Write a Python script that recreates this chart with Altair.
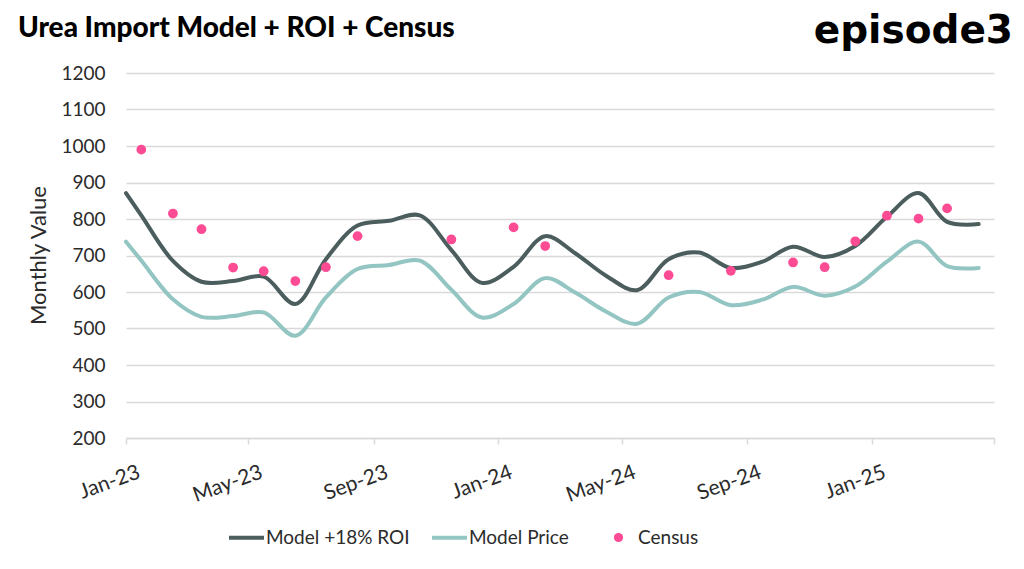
import altair as alt
import pandas as pd

# ---- data ----
line_dates = ["2023-01-01", "2023-01-16", "2023-02-16", "2023-03-16", "2023-04-16", "2023-05-16",
              "2023-06-16", "2023-07-16", "2023-08-16", "2023-09-16", "2023-10-16", "2023-11-16",
              "2023-12-16", "2024-01-16", "2024-02-16", "2024-03-16", "2024-04-16", "2024-05-16",
              "2024-06-16", "2024-07-16", "2024-08-16", "2024-09-16", "2024-10-16", "2024-11-16",
              "2024-12-16", "2025-01-16", "2025-02-16", "2025-03-16", "2025-04-16"]
model_roi = [871, 810, 685, 628, 630, 642, 567, 690, 782, 795, 810, 715, 625, 669, 753, 707,
             644, 605, 690, 708, 666, 683, 724, 696, 726, 806, 871, 792, 786]
model_price = [738, 686, 580, 532, 534, 544, 480, 585, 663, 674, 686, 606, 530, 567, 638, 599,
               546, 513, 585, 600, 564, 579, 614, 590, 615, 683, 738, 671, 666]

census_dates = ["2023-01-16", "2023-02-16", "2023-03-16", "2023-04-16", "2023-05-16", "2023-06-16",
                "2023-07-16", "2023-08-16", "2023-11-16", "2024-01-16", "2024-02-16", "2024-06-16",
                "2024-08-16", "2024-10-16", "2024-11-16", "2024-12-16", "2025-01-16", "2025-02-16",
                "2025-03-16"]
census = [990, 815, 772, 667, 657, 630, 668, 753, 744, 777, 726, 646, 658, 681, 668, 739, 809, 801, 829]

series_names = ["Model +18% ROI", "Model Price"]
series_colors = ["#4b5e5d", "#93c5c2"]
census_name = "Census"
census_color = "#fd4b94"

y_ticks = [200, 300, 400, 500, 600, 700, 800, 900, 1000, 1100, 1200]
x_ticks = ["2023-01-01", "2023-05-01", "2023-09-01", "2024-01-01", "2024-05-01",
           "2024-09-01", "2025-01-01", "2025-05-01"]

title_text = "Urea Import Model + ROI + Census"
logo_text = "episode3"

FONT = "Lato"
TXT = "#2b2b2b"
GRID = "#d9d9d9"

lines_df = pd.DataFrame({
    "date": line_dates * 2,
    "value": model_roi + model_price,
    "series": [series_names[0]] * len(line_dates) + [series_names[1]] * len(line_dates),
})
census_df = pd.DataFrame({"date": census_dates, "value": census, "series": [census_name] * len(census)})

x_scale = alt.Scale(type="utc", domain=["2023-01-01", "2025-05-01"])
y_scale = alt.Scale(domain=[200, 1200], nice=False, zero=False)

x_axis = alt.Axis(
    values=[pd.Timestamp(d).value // 10**6 for d in x_ticks],
    labelExpr="utcyear(datum.value) == 2025 && utcmonth(datum.value) == 4 ? '' : utcFormat(datum.value, '%b-%y')",
    labelAngle=-20, labelAlign="right", labelBaseline="alphabetic",
    labelPadding=33, labelOffset=15, labelFontSize=21, labelFont=FONT, labelColor=TXT,
    domainColor=GRID, domainWidth=1.5, tickColor=GRID, tickWidth=1.5, tickSize=6,
    grid=False, labelFlush=False, labelOverlap=False,
)
y_axis = alt.Axis(
    values=y_ticks, tickCount=11, format="d", labelOverlap=False, domain=False, ticks=False, labelPadding=21,
    labelFontSize=19, labelFont=FONT, labelColor=TXT,
    grid=True, gridColor=GRID, gridWidth=1.5,
    titleFont=FONT, titleFontSize=22, titleFontWeight="normal", titleColor=TXT,
    titleX=-88, titleY=182, titleAngle=-90, titleAlign="center", titleBaseline="middle",
)

x_enc = alt.X("date:T", scale=x_scale, title=None, axis=x_axis)
y_enc = alt.Y("value:Q", scale=y_scale, title="Monthly Value", axis=y_axis)

lines = alt.Chart(lines_df).mark_line(strokeWidth=4, interpolate="catmull-rom", strokeCap="round").encode(
    x=x_enc, y=y_enc,
    stroke=alt.Stroke(
        "series:N",
        scale=alt.Scale(domain=series_names, range=series_colors),
        legend=alt.Legend(
            orient="none", legendX=101, legendY=445, direction="horizontal", title=None,
            symbolType="stroke", symbolSize=1225, symbolStrokeWidth=4,
            labelFont=FONT, labelFontSize=19, labelColor=TXT, labelOffset=0,
            columnPadding=14, padding=0,
        ),
    ),
)

points = alt.Chart(census_df).mark_circle(size=95, opacity=1).encode(
    x=x_enc, y=y_enc,
    fill=alt.Fill(
        "series:N",
        scale=alt.Scale(domain=[census_name], range=[census_color]),
        legend=alt.Legend(
            orient="none", legendX=483, legendY=455, title=None,
            symbolType="circle", symbolSize=85,
            labelFont=FONT, labelFontSize=19, labelColor=TXT, labelOffset=10, padding=0,
        ),
    ),
)

title = alt.Chart(pd.DataFrame({"t": [title_text]})).mark_text(
    align="left", baseline="alphabetic", font=FONT, fontSize=28, fontWeight=900, color="#000000"
).encode(x=alt.value(-108), y=alt.value(-36), text="t:N")

logo = alt.Chart(pd.DataFrame({"t": [logo_text]})).mark_text(
    align="right", baseline="alphabetic", font="DejaVu Sans", fontSize=39, fontWeight="bold", color="#000000"
).encode(x=alt.value(887), y=alt.value(-30), text="t:N")

chart = alt.layer(lines, points, title, logo).resolve_scale(
    stroke="independent", fill="independent"
).properties(
    width=868, height=365,
    autosize=alt.AutoSizeParams(type="none"),
    padding={"left": 118, "top": 65, "right": 22, "bottom": 123},
    background="white",
).configure_view(stroke=None)

chart.save("out.html", embed_options={"renderer": "svg", "actions": False})
